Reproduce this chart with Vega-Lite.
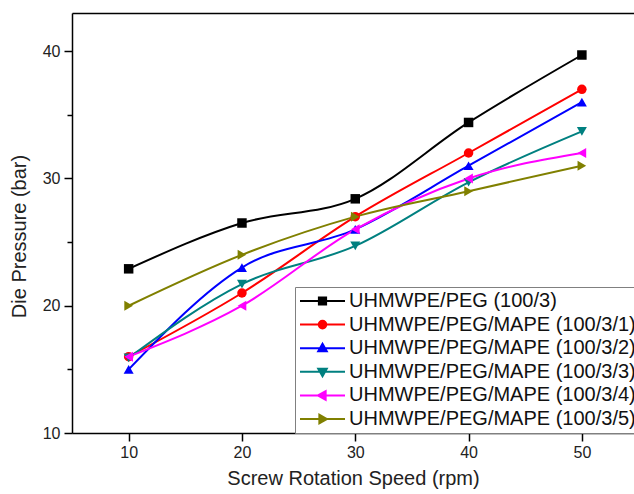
{
  "$schema": "https://vega.github.io/schema/vega-lite/v6.json",
  "width": 562,
  "height": 420,
  "autosize": "none",
  "padding": {"left": 72, "top": 13, "right": 0, "bottom": 61},
  "background": "white",
  "config": {
    "font": "Liberation Sans",
    "view": {"stroke": null},
    "axis": {
      "grid": false,
      "domainColor": "black",
      "domainWidth": 1.5,
      "tickColor": "black",
      "tickWidth": 1.5,
      "labelColor": "#222222",
      "labelFontSize": 16,
      "labelFont": "Liberation Sans",
      "titleFont": "Liberation Sans",
      "titleFontSize": 20,
      "titleFontWeight": "normal",
      "titleColor": "#222222"
    },
    "legend": {
      "symbolSize": 2025,
      "symbolStrokeWidth": 2,
      "symbolOpacity": 1,
      "clipHeight": 20,
      "rowPadding": 3.6,
      "labelOffset": 3,
      "labelFontSize": 20,
      "labelFont": "Liberation Sans",
      "labelColor": "#111111",
      "labelLimit": 500,
      "padding": 4,
      "strokeColor": "#808080",
      "fillColor": "white"
    }
  },
  "data": {
    "values": [
      {"series": "UHMWPE/PEG (100/3)", "speed": 10, "pressure": 22.9},
      {"series": "UHMWPE/PEG (100/3)", "speed": 20, "pressure": 26.5},
      {"series": "UHMWPE/PEG (100/3)", "speed": 30, "pressure": 28.4},
      {"series": "UHMWPE/PEG (100/3)", "speed": 40, "pressure": 34.4},
      {"series": "UHMWPE/PEG (100/3)", "speed": 50, "pressure": 39.7},
      {"series": "UHMWPE/PEG/MAPE (100/3/1)", "speed": 10, "pressure": 16},
      {"series": "UHMWPE/PEG/MAPE (100/3/1)", "speed": 20, "pressure": 21},
      {"series": "UHMWPE/PEG/MAPE (100/3/1)", "speed": 30, "pressure": 27},
      {"series": "UHMWPE/PEG/MAPE (100/3/1)", "speed": 40, "pressure": 32},
      {"series": "UHMWPE/PEG/MAPE (100/3/1)", "speed": 50, "pressure": 37},
      {"series": "UHMWPE/PEG/MAPE (100/3/2)", "speed": 10, "pressure": 15},
      {"series": "UHMWPE/PEG/MAPE (100/3/2)", "speed": 20, "pressure": 23},
      {"series": "UHMWPE/PEG/MAPE (100/3/2)", "speed": 30, "pressure": 26},
      {"series": "UHMWPE/PEG/MAPE (100/3/2)", "speed": 40, "pressure": 31},
      {"series": "UHMWPE/PEG/MAPE (100/3/2)", "speed": 50, "pressure": 36},
      {"series": "UHMWPE/PEG/MAPE (100/3/3)", "speed": 10, "pressure": 15.9},
      {"series": "UHMWPE/PEG/MAPE (100/3/3)", "speed": 20, "pressure": 21.7},
      {"series": "UHMWPE/PEG/MAPE (100/3/3)", "speed": 30, "pressure": 24.7},
      {"series": "UHMWPE/PEG/MAPE (100/3/3)", "speed": 40, "pressure": 29.7},
      {"series": "UHMWPE/PEG/MAPE (100/3/3)", "speed": 50, "pressure": 33.7},
      {"series": "UHMWPE/PEG/MAPE (100/3/4)", "speed": 10, "pressure": 16},
      {"series": "UHMWPE/PEG/MAPE (100/3/4)", "speed": 20, "pressure": 20},
      {"series": "UHMWPE/PEG/MAPE (100/3/4)", "speed": 30, "pressure": 26},
      {"series": "UHMWPE/PEG/MAPE (100/3/4)", "speed": 40, "pressure": 30},
      {"series": "UHMWPE/PEG/MAPE (100/3/4)", "speed": 50, "pressure": 32},
      {"series": "UHMWPE/PEG/MAPE (100/3/5)", "speed": 10, "pressure": 20},
      {"series": "UHMWPE/PEG/MAPE (100/3/5)", "speed": 20, "pressure": 24},
      {"series": "UHMWPE/PEG/MAPE (100/3/5)", "speed": 30, "pressure": 27},
      {"series": "UHMWPE/PEG/MAPE (100/3/5)", "speed": 40, "pressure": 29},
      {"series": "UHMWPE/PEG/MAPE (100/3/5)", "speed": 50, "pressure": 31}
    ]
  },
  "encoding": {
    "y": {
      "field": "pressure", "type": "quantitative",
      "scale": {"domain": [10, 43], "nice": false, "zero": false},
      "axis": {
        "values": [10, 15, 20, 25, 30, 35, 40],
        "labelExpr": "datum.value % 10 === 0 ? datum.label : ''",
        "tickSize": {"condition": {"test": "datum.value % 10 === 0", "value": 8}, "value": 5},
        "labelPadding": 4,
        "title": "Die Pressure (bar)",
        "titlePadding": 13,
        "titleY": 223
      }
    }
  },
  "layer": [
    {
      "transform": [{"filter": "false"}],
      "mark": {"type": "point", "filled": true, "opacity": 1},
      "encoding": {
        "x": {"field": "speed", "type": "quantitative", "scale": {"domain": [5, 54.6], "nice": false, "zero": false}, "axis": {"orient": "top", "labels": false, "ticks": false, "title": null, "domain": true}},
        "color": {
          "field": "series", "type": "nominal",
          "scale": {
            "domain": ["UHMWPE/PEG (100/3)", "UHMWPE/PEG/MAPE (100/3/1)", "UHMWPE/PEG/MAPE (100/3/2)", "UHMWPE/PEG/MAPE (100/3/3)", "UHMWPE/PEG/MAPE (100/3/4)", "UHMWPE/PEG/MAPE (100/3/5)"],
            "range": ["#000000", "#FF0000", "#0000FF", "#008080", "#FF00FF", "#808000"]
          },
          "legend": {"title": null, "orient": "none", "legendX": 223, "legendY": 274, "direction": "vertical"}
        },
        "stroke": {
          "field": "series", "type": "nominal",
          "scale": {
            "domain": ["UHMWPE/PEG (100/3)", "UHMWPE/PEG/MAPE (100/3/1)", "UHMWPE/PEG/MAPE (100/3/2)", "UHMWPE/PEG/MAPE (100/3/3)", "UHMWPE/PEG/MAPE (100/3/4)", "UHMWPE/PEG/MAPE (100/3/5)"],
            "range": ["#000000", "#FF0000", "#0000FF", "#008080", "#FF00FF", "#808000"]
          },
          "legend": {"title": null, "orient": "none", "legendX": 223, "legendY": 274, "direction": "vertical"}
        },
        "shape": {
          "field": "series", "type": "nominal",
          "scale": {
            "domain": ["UHMWPE/PEG (100/3)", "UHMWPE/PEG/MAPE (100/3/1)", "UHMWPE/PEG/MAPE (100/3/2)", "UHMWPE/PEG/MAPE (100/3/3)", "UHMWPE/PEG/MAPE (100/3/4)", "UHMWPE/PEG/MAPE (100/3/5)"],
            "range": [
              "M-1,0H1M-0.16,-0.16H0.16V0.16H-0.16Z",
              "M-1,0H1M0.17,0A0.17,0.17,0,1,1,-0.17,0A0.17,0.17,0,1,1,0.17,0Z",
              "M-1,0H1M0,-0.2L0.19,0.14L-0.19,0.14Z",
              "M-1,0H1M0,0.2L0.19,-0.14L-0.19,-0.14Z",
              "M-1,0H1M-0.2,0L0.14,-0.19L0.14,0.19Z",
              "M-1,0H1M0.2,0L-0.14,-0.19L-0.14,0.19Z"
            ]
          },
          "legend": {"title": null, "orient": "none", "legendX": 223, "legendY": 274, "direction": "vertical"}
        }
      }
    },
    {
      "mark": {"type": "line", "interpolate": "monotone", "strokeWidth": 2},
      "encoding": {
        "x": {
          "field": "speed", "type": "quantitative",
          "axis": {"orient": "bottom", "values": [10, 20, 30, 40, 50], "tickSize": 8, "labelPadding": 3, "title": "Screw Rotation Speed (rpm)", "titlePadding": 8}
        },
        "color": {"field": "series", "type": "nominal"}
      }
    },
    {
      "transform": [{"filter": "datum.series === 'UHMWPE/PEG (100/3)'"}],
      "mark": {"type": "point", "filled": true, "size": 90, "opacity": 1, "shape": "square"},
      "encoding": {"x": {"field": "speed", "type": "quantitative", "axis": null}, "color": {"field": "series", "type": "nominal"}}
    },
    {
      "transform": [{"filter": "datum.series === 'UHMWPE/PEG/MAPE (100/3/1)'"}],
      "mark": {"type": "point", "filled": true, "size": 90, "opacity": 1, "shape": "circle"},
      "encoding": {"x": {"field": "speed", "type": "quantitative", "axis": null}, "color": {"field": "series", "type": "nominal"}}
    },
    {
      "transform": [{"filter": "datum.series === 'UHMWPE/PEG/MAPE (100/3/2)'"}],
      "mark": {"type": "point", "filled": true, "size": 100, "opacity": 1, "shape": "triangle-up"},
      "encoding": {"x": {"field": "speed", "type": "quantitative", "axis": null}, "color": {"field": "series", "type": "nominal"}}
    },
    {
      "transform": [{"filter": "datum.series === 'UHMWPE/PEG/MAPE (100/3/3)'"}],
      "mark": {"type": "point", "filled": true, "size": 100, "opacity": 1, "shape": "triangle-down"},
      "encoding": {"x": {"field": "speed", "type": "quantitative", "axis": null}, "color": {"field": "series", "type": "nominal"}}
    },
    {
      "transform": [{"filter": "datum.series === 'UHMWPE/PEG/MAPE (100/3/4)'"}],
      "mark": {"type": "point", "filled": true, "size": 100, "opacity": 1, "shape": "triangle-left"},
      "encoding": {"x": {"field": "speed", "type": "quantitative", "axis": null}, "color": {"field": "series", "type": "nominal"}}
    },
    {
      "transform": [{"filter": "datum.series === 'UHMWPE/PEG/MAPE (100/3/5)'"}],
      "mark": {"type": "point", "filled": true, "size": 100, "opacity": 1, "shape": "triangle-right"},
      "encoding": {"x": {"field": "speed", "type": "quantitative", "axis": null}, "color": {"field": "series", "type": "nominal"}}
    }
  ],
  "resolve": {"axis": {"x": "independent"}}
}
